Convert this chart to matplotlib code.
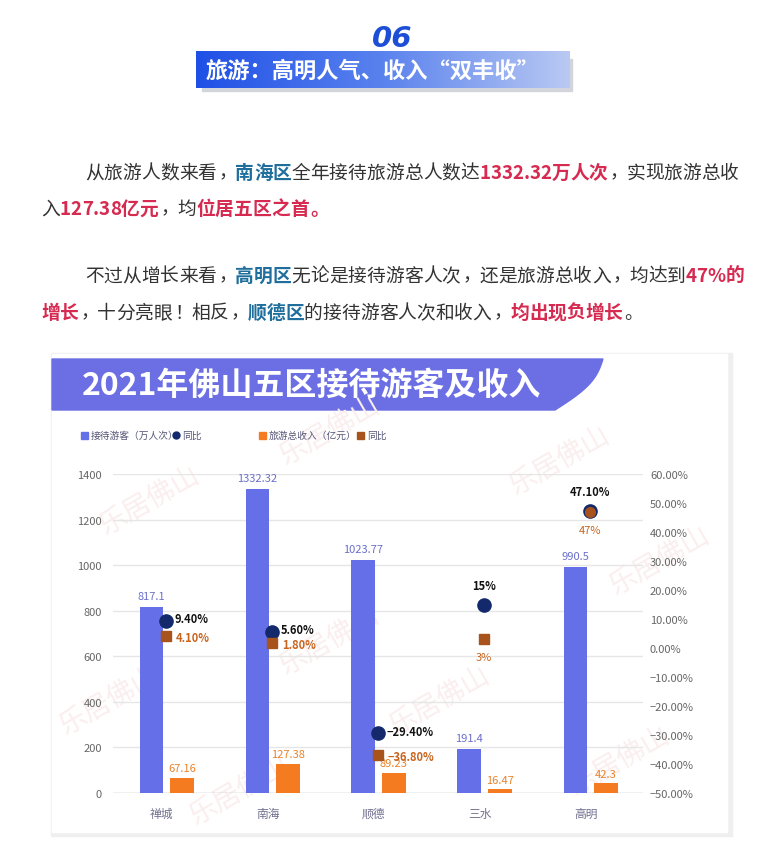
import matplotlib
matplotlib.use("Agg")
import matplotlib.pyplot as plt
import numpy as np
from matplotlib.patches import Rectangle, Polygon
from matplotlib.colors import LinearSegmentedColormap
from matplotlib.ticker import FuncFormatter

plt.rcParams['font.family'] = ['Noto Sans CJK SC', 'DejaVu Sans']
plt.rcParams['axes.unicode_minus'] = True

# data
districts = ["禅城", "南海", "顺德", "三水", "高明"]
visitors = [817.1, 1332.32, 1023.77, 191.4, 990.5]          # 万人次
income = [67.16, 127.38, 89.23, 16.47, 42.3]                 # 亿元
visitors_yoy = [9.4, 5.6, -29.4, 15.0, 47.1]                 # %
income_yoy = [4.1, 1.8, -36.8, 3.0, 47.0]                    # %
visitors_yoy_labels = ["9.40%", "5.60%", "\u221229.40%", "15%", "47.10%"]
income_yoy_labels = ["4.10%", "1.80%", "\u221236.80%", "3%", "47%"]

PURPLE = "#6570e8"
ORANGE = "#f57b20"
NAVY = "#13296b"
BROWN = "#a8521c"
GREY_TXT = "#333333"
BLUE_TXT = "#1f6e9c"
RED_TXT = "#d62a50"

W, H = 769, 853
fig = plt.figure(figsize=(W / 100, H / 100), dpi=100)
deco = fig.add_axes([0, 0, 1, 1])
deco.set_xlim(0, W)
deco.set_ylim(H, 0)
deco.axis("off")
renderer = fig.canvas.get_renderer()

# ---- header "06" + gradient banner
deco.text(392, 39, "06", family="DejaVu Sans", style="italic", weight="bold",
          fontsize=21, color="#1d4fd6", ha="center", va="center", zorder=5)
deco.add_patch(Rectangle((202, 60), 370, 32, color="#d3d5dc", zorder=1))
grad = np.linspace(0, 1, 256).reshape(1, -1)
bcmap = LinearSegmentedColormap.from_list("b", ["#1f50e6", "#5a82ee", "#b9c9f3"])
deco.imshow(grad, cmap=bcmap, extent=(196, 570, 89, 52), aspect="auto", zorder=2)
deco.text(373, 71, "旅游：高明人气、收入“双丰收”", color="white", weight="bold",
          fontsize=16, ha="center", va="center", zorder=3)


# ---- paragraphs, laid out char by char so mixed weights line up
PUNCT = "，。、：！"


def ext(s, size, weight):
    t = deco.text(0, 0, s, fontsize=size, fontweight=weight)
    w = t.get_window_extent(renderer).width
    t.remove()
    return w


def adv(c, size, weight):
    if ord(c) > 0x2E80:
        return size * 100 / 72
    return ext("国" + c + "国", size, weight) - ext("国国", size, weight)


def line_width(parts, size):
    return sum(adv(c, size, wt) for txt, col, wt in parts for c in txt)


def rich_line(x, y, parts, size):
    em = size * 100 / 72
    base_y = y + 0.36 * em
    for txt, color, weight in parts:
        for c in txt:
            a = adv(c, size, weight)
            if c in PUNCT:
                deco.text(x + 0.1 * em, base_y, c, color=color, fontsize=size,
                          fontweight=weight, ha="left", va="baseline", zorder=5)
            else:
                deco.text(x + a / 2, base_y, c, color=color, fontsize=size,
                          fontweight=weight, ha="center", va="baseline", zorder=5)
            x += a


p1l1 = [("从旅游人数来看，", GREY_TXT, "normal"), ("南海区", BLUE_TXT, "bold"),
        ("全年接待旅游总人数达", GREY_TXT, "normal"), ("1332.32万人次", RED_TXT, "bold"),
        ("，实现旅游总收", GREY_TXT, "normal")]
p1l2 = [("入", GREY_TXT, "normal"), ("127.38亿元", RED_TXT, "bold"),
        ("，均", GREY_TXT, "normal"), ("位居五区之首。", RED_TXT, "bold")]
p2l1 = [("不过从增长来看，", GREY_TXT, "normal"), ("高明区", BLUE_TXT, "bold"),
        ("无论是接待游客人次，还是旅游总收入，均达到", GREY_TXT, "normal"),
        ("47%的", RED_TXT, "bold")]
p2l2 = [("增长", RED_TXT, "bold"), ("，十分亮眼！相反，", GREY_TXT, "normal"),
        ("顺德区", BLUE_TXT, "bold"), ("的接待游客人次和收入，", GREY_TXT, "normal"),
        ("均出现负增长", RED_TXT, "bold"), ("。", GREY_TXT, "normal")]

base = 13.5
fs = base * (739 - 85) / line_width(p1l1, base)
rich_line(85, 172, p1l1, fs)
rich_line(41, 208, p1l2, fs)
rich_line(85, 275, p2l1, fs)
rich_line(41, 312, p2l2, fs)

# ---- chart card
deco.add_patch(Rectangle((51, 354), 681, 483, color="#efefef", zorder=1))
deco.add_patch(Rectangle((52, 355), 675, 478, color="white", zorder=1.5))
tt = np.linspace(0, 1, 20)
curve = [(603 - 48 * t + 10 * np.sin(np.pi * t), 360 + 51 * t) for t in tt]
deco.add_patch(Polygon([(52, 360)] + curve + [(52, 411)], closed=True,
                       color="#6b6fe3", zorder=2))
deco.text(82, 386, "2021年佛山五区接待游客及收入", color="white", weight="bold",
          fontsize=23, ha="left", va="center", zorder=3)

# faint watermarks
for wx, wy in [(150, 500), (330, 430), (560, 460), (110, 700), (330, 640),
               (440, 700), (660, 560), (620, 760), (240, 790)]:
    deco.text(wx, wy, "乐居佛山", color="#fbeeee", fontsize=20, rotation=30,
              ha="center", va="center", zorder=2)

# legend
lg_y = 436
deco.add_patch(Rectangle((81, lg_y - 3.5), 7, 7, color=PURPLE, zorder=3))
deco.text(91, lg_y, "接待游客（万人次）", fontsize=7, color="#555577", va="center", zorder=3)
deco.plot([176], [lg_y], "o", color=NAVY, ms=5, zorder=3)
deco.text(182, lg_y, "同比", fontsize=7, color="#555577", va="center", zorder=3)
deco.add_patch(Rectangle((259, lg_y - 3.5), 7, 7, color=ORANGE, zorder=3))
deco.text(269, lg_y, "旅游总收入（亿元）", fontsize=7, color="#555577", va="center", zorder=3)
deco.add_patch(Rectangle((357, lg_y - 3.5), 7, 7, color=BROWN, zorder=3))
deco.text(367, lg_y, "同比", fontsize=7, color="#555577", va="center", zorder=3)

# ---- chart axes
x0, x1, yb, yt = 113, 643, 794, 475
ax = fig.add_axes([x0 / W, (H - yb) / H, (x1 - x0) / W, (yb - yt) / H])
ax.patch.set_alpha(0)
x = np.arange(len(districts))
bw = 0.22
ax.bar(x - 0.14, visitors, bw, color=PURPLE, zorder=3)
ax.bar(x + 0.15, income, bw, color=ORANGE, zorder=3)
for i in x:
    ax.annotate(f"{visitors[i]:g}", (i - 0.14, visitors[i]), xytext=(0, 8),
                textcoords="offset points", ha="center", va="center",
                fontsize=8, color="#6b6fc9", zorder=4)
    ax.annotate(f"{income[i]:g}", (i + 0.15, income[i]), xytext=(0, 7),
                textcoords="offset points", ha="center", va="center",
                fontsize=8, color="#e8822a", zorder=4)
ax.set_xlim(-0.5, len(districts) - 0.5)
ax.set_ylim(0, 1400)
ax.set_yticks(range(0, 1401, 200))
ax.set_xticks(x - 0.04)
ax.set_xticklabels(districts, fontsize=8.5)
ax.tick_params(axis="both", length=0, labelsize=8, colors="#666666")
ax.tick_params(axis="x", pad=10, colors="#707090", labelsize=8.5)
ax.tick_params(axis="y", pad=8)
ax.grid(axis="y", color="#e6e6e6", lw=1, zorder=0)
for s in ax.spines.values():
    s.set_visible(False)
ax.axhline(0, color="#cccccc", lw=1, zorder=2)

ax2 = ax.twinx()
ax2.set_ylim(-50, 60)
ax2.set_yticks(range(-50, 61, 10))
ax2.yaxis.set_major_formatter(FuncFormatter(lambda v, p: f"{v:.2f}%".replace("-", "\u2212")))
ax2.tick_params(axis="y", length=0, labelsize=8, colors="#666666", pad=5)
for s in ax2.spines.values():
    s.set_visible(False)
ax2.plot(x, visitors_yoy, "o", color=NAVY, ms=9.5, ls="none", zorder=5)
ax2.plot(x[:4], income_yoy[:4], "s", color=BROWN, ms=7, ls="none", zorder=6)
ax2.plot(x[4:], income_yoy[4:], "o", color=BROWN, ms=7, ls="none", zorder=6)

for i in x:
    if i < 3:
        ax2.annotate(visitors_yoy_labels[i], (i, visitors_yoy[i]), xytext=(6, 1.5),
                     textcoords="offset points", ha="left", va="center",
                     fontsize=8, weight="bold", color="#111111", zorder=7)
        ax2.annotate(income_yoy_labels[i], (i, income_yoy[i]), xytext=(7, -1),
                     textcoords="offset points", ha="left", va="center",
                     fontsize=8, weight="bold", color="#c8641e", zorder=7)
    else:
        ax2.annotate(visitors_yoy_labels[i], (i, visitors_yoy[i]), xytext=(0, 14),
                     textcoords="offset points", ha="center", va="center",
                     fontsize=8, weight="bold", color="#111111", zorder=7)
        ax2.annotate(income_yoy_labels[i], (i, income_yoy[i]), xytext=(0, -13),
                     textcoords="offset points", ha="center", va="center",
                     fontsize=8, color="#c8641e", zorder=7)

fig.savefig("out.png", dpi=100)
